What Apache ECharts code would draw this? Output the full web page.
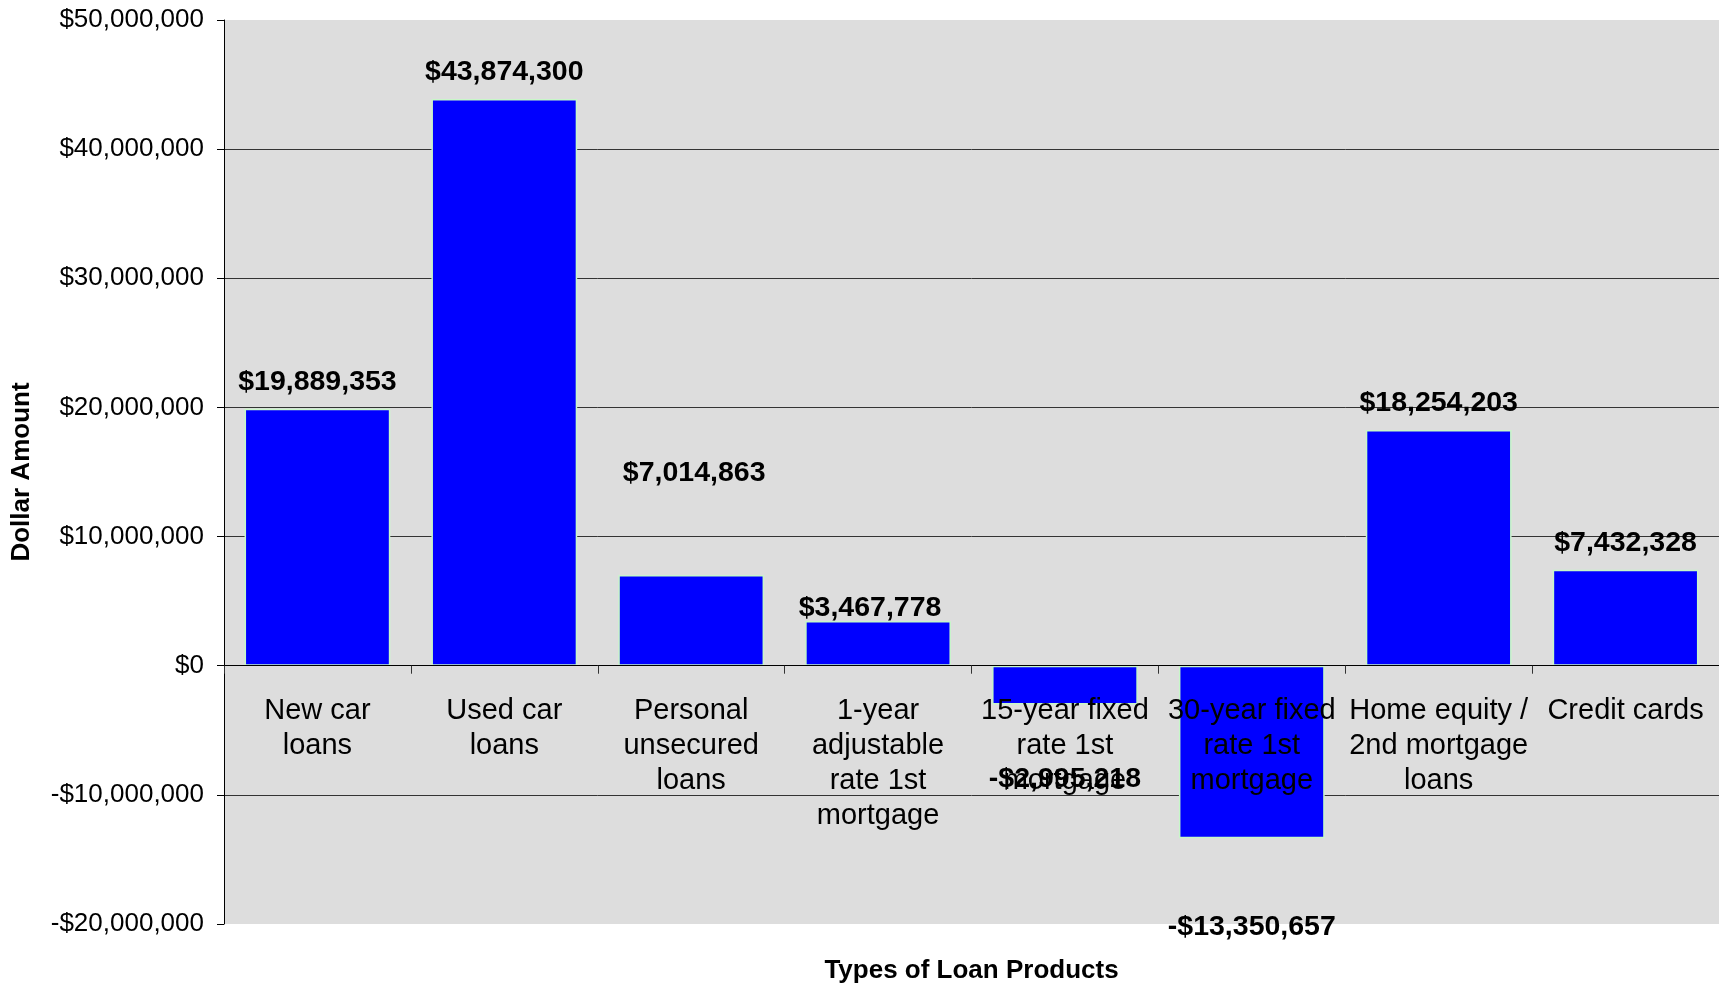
<!DOCTYPE html>
<html>
<head>
<meta charset="utf-8">
<title>Types of Loan Products</title>
<script src="https://cdn.jsdelivr.net/npm/echarts@6/dist/echarts.min.js"></script>
<style>
  html, body { margin: 0; padding: 0; background: #fff; }
  #chart { width: 1719px; height: 987px; }
</style>
</head>
<body>
<div id="chart"></div>
<script>
const categories = [
  'New car\nloans',
  'Used car\nloans',
  'Personal\nunsecured\nloans',
  '1-year\nadjustable\nrate 1st\nmortgage',
  '15-year fixed\nrate 1st\nmortgage',
  '30-year fixed\nrate 1st\nmortgage',
  'Home equity /\n2nd mortgage\nloans',
  'Credit cards'
]
const amounts = [19889353, 43874300, 7014863, 3467778, -2995218, -13350657, 18254203, 7432328]

// label nudges so the value text sits where the original put it
const labelOffsets = [[0, 0], [0, 0], [3, -75], [-8, 14], [0, 48], [0, 63], [0, 0], [0, 0]]

const money = (v) => {
  const s = '$' + Math.abs(v).toLocaleString('en-US')
  return v < 0 ? '-' + s : s
}

const chart = echarts.init(document.getElementById('chart'))

// category axis sits on the $0 line (grid bottom minus the zero position)
const gridTop = 20
const gridBottom = 63
const plotH = 987 - gridTop - gridBottom
const zeroOffset = -plotH * 20 / 70

const option = {
  animation: false,
  textStyle: { fontFamily: 'Liberation Sans, Arial, sans-serif' },
  grid: {
    left: 224,
    right: 0,
    top: gridTop,
    bottom: gridBottom,
    containLabel: false,
    outerBoundsMode: 'none',
    show: true,
    backgroundColor: '#dddddd',
    borderWidth: 0
  },
  xAxis: {
    type: 'category',
    data: categories,
    z: 10,
    offset: zeroOffset,
    name: 'Types of Loan Products',
    nameLocation: 'middle',
    nameGap: 292,
    nameTextStyle: { fontSize: 26, fontWeight: 'bold', color: '#000' },
    axisLine: { onZero: false, lineStyle: { color: '#000', width: 1 } },
    axisTick: { show: true, length: 8, inside: false, lineStyle: { color: '#333' } },
    axisLabel: {
      interval: 0,
      margin: 28,
      fontSize: 29,
      lineHeight: 35,
      color: '#000'
    },
    splitLine: { show: false }
  },
  yAxis: {
    type: 'value',
    min: -20000000,
    max: 50000000,
    interval: 10000000,
    name: 'Dollar Amount',
    nameLocation: 'middle',
    nameGap: 189,
    nameTextStyle: { fontSize: 26, fontWeight: 'bold', color: '#000' },
    axisLine: { show: true, lineStyle: { color: '#000', width: 1 } },
    axisTick: { show: true, length: 7, lineStyle: { color: '#000' } },
    axisLabel: {
      margin: 20,
      fontSize: 26,
      color: '#000',
      formatter: (v) => money(v)
    },
    splitLine: {
      show: true,
      showMinLine: false,
      showMaxLine: false,
      lineStyle: { color: '#333', width: 1 }
    }
  },
  series: [
    {
      type: 'bar',
      barCategoryGap: '22%',
      itemStyle: {
        color: '#0000ff',
        borderColor: '#c8f7c8',
        borderWidth: 1.5
      },
      data: amounts.map((v, i) => ({
        value: v,
        label: {
          show: true,
          position: v < 0 ? 'bottom' : 'top',
          distance: 12,
          offset: labelOffsets[i],
          fontSize: 28.5,
          fontWeight: 'bold',
          color: '#000',
          formatter: () => money(v)
        }
      }))
    }
  ]
}

chart.setOption(option)
</script>
</body>
</html>
